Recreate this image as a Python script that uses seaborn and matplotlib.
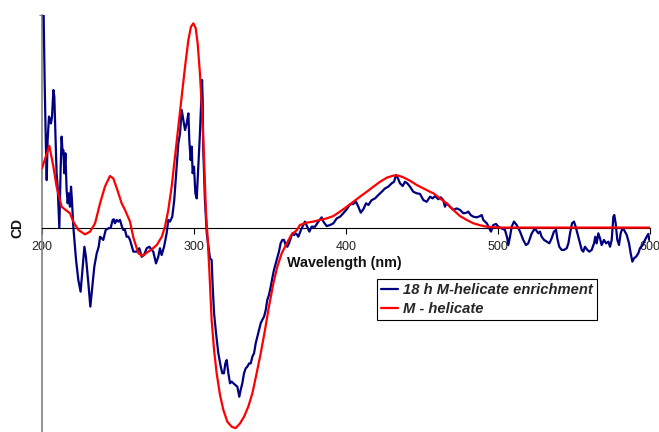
import matplotlib
matplotlib.use("Agg")
import matplotlib.pyplot as plt
import numpy as np
import pandas as pd
import seaborn as sns

# CD spectra (wavelength in nm, CD in arbitrary units)
series_names = ["18 h M-helicate enrichment", "M - helicate"]
series_colors = ["#000080", "#FF0000"]

enrich_nm = [
    201.0, 201.8, 202.4, 203.1, 203.7, 204.6, 205.3, 205.9, 206.6, 207.5,
    208.1, 208.8, 209.6, 210.3, 211.0, 211.4, 212.3, 212.9, 213.6, 214.0,
    214.7, 215.4, 216.2, 216.9, 217.5, 218.4, 219.1, 219.7, 220.6, 221.3,
    222.4, 223.9, 225.4, 226.8, 227.9, 228.9, 230.5, 231.8, 232.9, 234.4,
    236.0, 237.3, 238.2, 239.3, 240.3, 241.9, 243.6, 245.2, 246.5, 247.2,
    248.0, 249.1, 250.2, 251.3, 252.6, 253.5, 254.6, 255.7, 256.8, 257.9,
    260.1, 262.3, 264.0, 265.6, 267.1, 268.9, 270.6, 272.2, 273.2, 275.0,
    276.5, 277.6, 278.7, 280.3, 282.0, 283.1, 284.2, 285.7, 287.0, 288.6,
    289.7, 290.8, 291.9, 293.0, 294.1, 295.2, 296.3, 296.9, 297.8, 298.5,
    299.1, 300.0, 300.9, 301.8, 302.8, 303.9, 304.6, 305.3, 305.7, 306.1,
    307.2, 308.4, 310.5, 311.6, 312.3, 313.2, 314.5, 316.0, 317.6, 318.6,
    319.7, 320.6, 321.5, 322.6, 323.7, 324.8, 325.9, 327.2, 328.5, 329.8,
    330.7, 331.8, 332.9, 334.0, 335.1, 336.2, 337.3, 338.4, 339.5, 340.6,
    341.7, 342.8, 343.9, 344.9, 346.1, 347.2, 348.2, 349.3, 350.5, 351.5,
    352.6, 353.8, 354.8, 355.9, 357.0, 358.1, 359.2, 360.3, 361.4, 362.5,
    363.6, 364.7, 365.8, 366.9, 368.0, 368.6, 370.8, 373.0, 374.5, 375.9,
    377.4, 379.6, 381.8, 384.0, 385.1, 387.3, 389.5, 391.7, 393.9, 396.1,
    398.2, 400.5, 402.6, 404.8, 406.6, 408.1, 409.7, 411.4, 413.2, 414.7,
    416.9, 419.1, 421.3, 423.5, 425.7, 427.8, 430.1, 431.6, 432.9, 434.2,
    435.5, 437.3, 438.8, 440.3, 442.1, 444.3, 446.5, 448.7, 450.9, 453.1,
    455.3, 457.0, 458.6, 460.7, 462.3, 464.0, 465.1, 466.2, 468.4, 470.6,
    472.8, 475.0, 477.2, 479.4, 480.5, 482.0, 483.8, 486.0, 488.2, 489.3,
    490.3, 492.6, 493.6, 494.7, 495.4, 496.9, 498.7, 500.2, 502.4, 504.6,
    506.1, 506.8, 507.9, 509.0, 510.5, 512.3, 514.5, 516.6, 518.4, 519.9,
    522.2, 524.3, 526.5, 527.6, 528.7, 530.3, 532.0, 533.8, 535.3, 536.8,
    538.2, 539.0, 540.3, 541.9, 543.4, 545.2, 546.3, 547.4, 548.7, 550.0,
    551.1, 552.8, 553.9, 555.1, 556.1, 557.2, 558.8, 560.1, 561.6, 563.2,
    564.0, 564.9, 566.0, 567.1, 568.2, 569.7, 571.1, 572.6, 573.7, 574.8,
    575.9, 576.5, 577.4, 578.5, 579.6, 580.7, 581.8, 582.9, 584.7, 586.2,
    587.3, 588.4, 589.5, 590.8, 592.3, 593.4, 595.2, 596.7, 597.8, 598.9,
    599.5,
]
enrich_cd = [
    10.4, 6.63, 4.44, 2.25, 4.13, 5.23, 5.07, 4.91, 5.23, 6.48,
    6.17, 4.44, 2.57, 1.94, 0.69, 0.00, 2.88, 4.29, 3.51, 3.66,
    2.57, 3.51, 1.78, 1.16, 1.63, 1.00, 1.94, 1.31, 0.06, -0.56,
    -1.50, -2.44, -2.99, -1.82, -0.88, -1.35, -2.60, -3.69, -2.91, -1.82,
    -1.19, -0.88, -0.41, -0.49, -0.56, -0.09, -0.02, 0.01, 0.38, 0.41,
    0.22, 0.38, 0.30, 0.38, 0.06, -0.09, -0.09, -0.41, -0.40, -0.56,
    -1.11, -1.11, -0.95, -1.35, -1.27, -0.95, -0.88, -1.03, -1.11, -1.66,
    -1.35, -0.95, -1.27, -0.88, -0.25, 0.38, 0.30, 0.53, 1.31, 2.88,
    3.98, 4.44, 5.54, 5.07, 4.60, 4.91, 5.38, 4.13, 3.19, 3.82,
    2.57, 2.88, 1.63, 1.39, 2.88, 4.44, 5.69, 6.95, 6.00, 3.66,
    1.31, -0.25, -1.42, -1.50, -2.75, -4.00, -4.94, -5.88, -6.51, -6.82,
    -6.82, -6.36, -6.20, -6.82, -7.29, -7.21, -7.29, -7.37, -7.45, -7.92,
    -7.60, -7.29, -6.82, -6.59, -6.51, -6.36, -6.36, -6.04, -5.88, -5.41,
    -5.10, -4.79, -4.47, -4.32, -4.16, -3.85, -3.38, -3.15, -2.75, -2.36,
    -1.97, -1.66, -1.42, -1.11, -0.72, -0.56, -0.56, -0.80, -0.88, -0.72,
    -0.48, -0.25, -0.33, -0.25, -0.33, -0.41, -0.02, 0.30, 0.06, -0.17,
    0.06, 0.06, 0.30, 0.50, 0.30, 0.09, 0.14, 0.22, 0.45, 0.53,
    0.69, 0.88, 1.11, 1.13, 1.23, 1.00, 0.72, 0.88, 1.16, 1.08,
    1.31, 1.39, 1.55, 1.70, 1.86, 1.94, 2.10, 2.17, 2.49, 2.33,
    2.10, 1.97, 2.17, 2.10, 1.94, 1.70, 1.63, 1.60, 1.31, 1.23,
    1.47, 1.39, 1.50, 1.35, 1.44, 1.31, 1.00, 1.16, 1.00, 0.85,
    0.92, 0.85, 0.69, 0.72, 0.77, 0.61, 0.53, 0.50, 0.56, 0.61,
    0.38, 0.22, 0.09, -0.09, -0.17, 0.14, 0.19, 0.06, -0.02, -0.09,
    -0.48, -0.80, -0.41, 0.06, 0.30, 0.14, -0.17, -0.56, -0.80, -0.72,
    -0.25, -0.02, -0.25, -0.17, -0.41, -0.56, -0.64, -0.72, -0.48, -0.17,
    -0.09, -0.48, -0.88, -1.03, -1.03, -0.95, -0.72, -0.25, 0.22, 0.30,
    0.06, -0.41, -0.72, -1.03, -1.11, -0.88, -1.03, -1.11, -1.03, -0.72,
    -0.41, -0.72, -0.25, -0.48, -0.80, -0.56, -0.72, -0.64, -0.88, -0.56,
    0.53, 0.61, 0.22, -0.56, -0.80, -0.25, -0.02, -0.09, -0.33, -0.72,
    -1.19, -1.58, -1.42, -1.35, -1.19, -0.95, -0.80, -0.56, -0.41, -0.28,
    -0.56,
]

helicate_nm = [
    200.0, 204.8, 207.5, 209.6, 212.9, 216.2, 218.4, 220.6, 223.9, 228.3,
    231.6, 234.9, 238.2, 241.4, 244.7, 246.9, 249.6, 252.4, 254.6, 257.9,
    260.1, 263.4, 266.2, 268.9, 272.2, 275.5, 278.8, 280.9, 283.1, 285.3,
    287.5, 289.7, 291.9, 294.1, 296.3, 298.0, 299.6, 301.1, 302.4, 303.9,
    305.5, 306.8, 307.9, 308.8, 310.1, 311.6, 313.2, 314.9, 317.1, 319.3,
    321.9, 324.8, 327.4, 330.3, 332.9, 335.7, 338.4, 341.2, 343.9, 346.7,
    349.3, 352.2, 354.8, 357.7, 361.0, 364.3, 367.6, 369.7, 374.1, 378.5,
    382.9, 387.3, 391.6, 396.1, 400.5, 404.8, 409.2, 413.6, 418.0, 422.4,
    426.8, 431.1, 434.4, 437.7, 442.1, 446.5, 450.9, 455.3, 457.5, 461.8,
    466.2, 470.6, 475.0, 479.4, 483.8, 488.2, 492.6, 501.3, 550.0, 600.0,
]
helicate_cd = [
    2.80, 3.86, 2.88, 1.94, 1.00, 0.81, 0.69, 0.30, -0.09, -0.30,
    -0.17, 0.22, 1.16, 1.94, 2.44, 2.33, 1.78, 1.16, 0.85, 0.30,
    -0.45, -1.19, -1.31, -1.16, -1.00, -0.80, -0.41, 0.06, 0.85, 1.94,
    3.35, 4.76, 6.17, 7.57, 8.83, 9.45, 9.61, 9.38, 8.67, 7.26,
    5.23, 2.88, 0.69, -0.25, -2.00, -4.32, -5.73, -6.82, -7.84, -8.54,
    -9.09, -9.33, -9.40, -9.17, -8.86, -8.39, -7.76, -6.82, -5.88, -4.79,
    -3.69, -2.60, -1.82, -1.19, -0.72, -0.30, -0.10, 0.14, 0.25, 0.30,
    0.38, 0.45, 0.56, 0.77, 1.00, 1.23, 1.47, 1.70, 1.94, 2.17,
    2.36, 2.46, 2.46, 2.38, 2.22, 2.02, 1.86, 1.70, 1.63, 1.39,
    1.16, 0.85, 0.56, 0.38, 0.22, 0.13, 0.06, 0.02, 0.02, 0.02,
]

x_ticks = [200, 300, 400, 500, 600]

df = pd.concat([
    pd.DataFrame({"nm": enrich_nm, "cd": enrich_cd, "series": series_names[0]}),
    pd.DataFrame({"nm": helicate_nm, "cd": helicate_cd, "series": series_names[1]}),
], ignore_index=True)

sns.set_theme(style="white")
plt.rcParams["font.family"] = ["Liberation Sans", "DejaVu Sans"]

fig = plt.figure(figsize=(6.59, 4.32), dpi=100)
ax = fig.add_axes([42 / 659, -9 / 432, 608 / 659, 426 / 432])
ax.set_facecolor("none")

sns.lineplot(
    data=df, x="nm", y="cd", hue="series", hue_order=series_names,
    palette=series_colors, estimator=None, sort=False, linewidth=1.6,
    ax=ax, zorder=3,
)

ax.set_xlim(200, 600)
ax.set_ylim(-10, 10)

for side in ("top", "right"):
    ax.spines[side].set_visible(False)
ax.spines["bottom"].set_position(("data", 0))
ax.spines["bottom"].set_color("#000000")
ax.spines["bottom"].set_linewidth(0.8)
ax.spines["left"].set_color("#808080")
ax.spines["left"].set_linewidth(1.2)

ax.set_xticks(x_ticks)
ax.set_xticklabels([str(t) for t in x_ticks])
ax.set_yticks([10])
ax.set_yticklabels([])
ax.tick_params(axis="x", bottom=True, direction="out", length=4, width=0.8,
               color="#000000", labelsize=9, labelcolor="#222222", pad=5.5)
ax.tick_params(axis="y", left=True, direction="out", length=2.5, width=0.8,
               color="#808080")
ax.set_xlabel("")
ax.set_ylabel("")

fig.text(344 / 659, 1 - 263 / 432, "Wavelength (nm)", ha="center", va="center",
         fontsize=10.3, fontweight="bold", color="#111111")
fig.text(17 / 659, 1 - 228 / 432, "CD", ha="center", va="center", rotation=90,
         fontsize=10, fontweight="bold", color="#111111")

handles, labels = ax.get_legend_handles_labels()
leg = ax.legend(
    handles, labels, loc="upper left",
    bbox_to_anchor=(377 / 659, 1 - 279 / 432), bbox_transform=fig.transFigure,
    frameon=True, fancybox=False, edgecolor="#000000", framealpha=1,
    prop=dict(weight="bold", style="italic", size=10.6),
    handlelength=1.1, handletextpad=0.35, borderpad=0.3, labelspacing=0.3,
    borderaxespad=0,
)
leg.get_frame().set_linewidth(0.8)

fig.savefig("out.png", dpi=100)
